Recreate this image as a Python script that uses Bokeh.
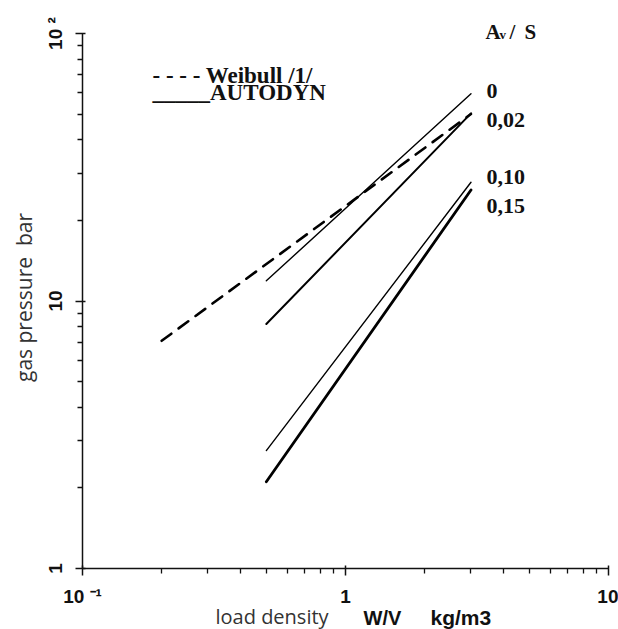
import math
from bokeh.plotting import figure
from bokeh.models import FixedTicker, Label, LogAxis, Range1d
from bokeh.embed import file_html
from bokeh.resources import INLINE

# ---- data ----
weibull_x = [0.2, 3.0]
weibull_y = [7.1, 50.0]

autodyn_x = [0.5, 3.0]
av_labels = ["0", "0,02", "0,10", "0,15"]
autodyn_y_start = [11.9, 8.2, 2.76, 2.11]
autodyn_y_end = [59.5, 50.3, 27.8, 26.0]
autodyn_width = [1.4, 2.0, 1.4, 2.8]

x_major = [0.1, 1, 10]
y_major = [1, 10, 100]
x_tick_labels = ["10 \u207b\u00b9", "1", "10"]
y_tick_labels = ["1", "10", "10 \u00b2"]

x_minor = [m * d for d in (0.1, 1) for m in range(2, 10)]
y_minor = [m * d for d in (1, 10) for m in range(2, 10)]

# ---- layout (pixels) ----
W, H = 618, 629
AX_LEFT, AX_RIGHT, AX_TOP, AX_BOTTOM = 82, 608, 33, 568
x_dec = (AX_RIGHT - AX_LEFT) / 2.0
y_dec = (AX_BOTTOM - AX_TOP) / 2.0
x_range = Range1d(10 ** (math.log10(x_major[0]) - AX_LEFT / x_dec),
                  10 ** (math.log10(x_major[-1]) + (W - AX_RIGHT) / x_dec))
y_range = Range1d(10 ** (math.log10(y_major[0]) - (H - AX_BOTTOM) / y_dec),
                  10 ** (math.log10(y_major[-1]) + AX_TOP / y_dec))

p = figure(width=W, height=H, x_axis_type="log", y_axis_type="log",
           x_range=x_range, y_range=y_range, title=None,
           x_axis_location=None, y_axis_location=None,
           output_backend="svg", toolbar_location=None,
           min_border_left=0, min_border_right=0, min_border_top=0, min_border_bottom=0)
p.outline_line_color = None
p.grid.visible = False

xaxis = LogAxis(fixed_location=y_major[0], bounds=(x_major[0], x_major[-1]),
                ticker=FixedTicker(ticks=x_major, minor_ticks=x_minor))
yaxis = LogAxis(fixed_location=x_major[0], bounds=(y_major[0], y_major[-1]),
                ticker=FixedTicker(ticks=y_major, minor_ticks=y_minor))
for ax in (xaxis, yaxis):
    ax.axis_line_width = 1.5
    ax.axis_line_color = "#111111"
    ax.major_tick_line_width = 1.5
    ax.minor_tick_line_width = 1.3
    ax.major_tick_line_color = "#111111"
    ax.minor_tick_line_color = "#111111"
    ax.major_tick_in = 3
    ax.major_tick_out = 7
    ax.minor_tick_in = 0
    ax.minor_tick_out = 5
    ax.major_label_text_font = "Liberation Sans"
    ax.major_label_text_font_size = "19px"
    ax.major_label_text_font_style = "bold"
    ax.major_label_text_color = "#111111"
xaxis.major_label_overrides = {float(t): s for t, s in zip(x_major, x_tick_labels)}
yaxis.major_label_overrides = {float(t): s for t, s in zip(y_major, y_tick_labels)}
xaxis.major_label_standoff = 10
yaxis.major_label_standoff = 10
yaxis.major_label_orientation = "vertical"
p.add_layout(xaxis, "below")
p.add_layout(yaxis, "left")

# lines
p.line(weibull_x, weibull_y, line_color="black", line_width=2.6,
       line_dash="12 9", line_cap="round")
for y0, y1, w in zip(autodyn_y_start, autodyn_y_end, autodyn_width):
    p.line(autodyn_x, [y0, y1], line_color="black", line_width=w, line_cap="round")

serif = "Liberation Serif"


def lab(x, y_top, text, size, font=serif, style="bold", color="#111111",
        align="left", baseline="alphabetic", angle=0.0):
    # x, y_top in canvas pixels from the top-left corner
    p.add_layout(Label(x=x, y=H - y_top, x_units="screen", y_units="screen", text=text,
                       text_font=font, text_font_size=size, text_font_style=style,
                       text_color=color, text_baseline=baseline, text_align=align,
                       angle=angle))


# legend (as drawn in the original: characters)
lab(152, 75, "- - - - Weibull /1/", "23px")
lab(152, 92, "_____AUTODYN", "23px")

# curve labels
label_baselines = [90, 119, 176, 205]
for t, yb in zip(av_labels, label_baselines):
    lab(486, yb, t, "22px")

# A_v / S header
lab(485, 31, "A", "21px")
lab(499, 34, "v", "13px")
lab(509, 31, "/", "21px")
lab(524, 31, "S", "21px")

# axis titles
lab(23, 297, "gas pressure\u00a0 bar", "21px", font="Open Sans", style="normal",
    color="#333333", align="center", baseline="middle", angle=math.pi / 2)
lab(215, 616, "load density", "20px", font="Open Sans", style="normal", color="#333333")
lab(363, 617, "W/V", "20px", font="Liberation Sans")
lab(430, 617, "kg/m3", "21px", font="Liberation Sans")

open("out.html", "w").write(file_html(p, INLINE))
